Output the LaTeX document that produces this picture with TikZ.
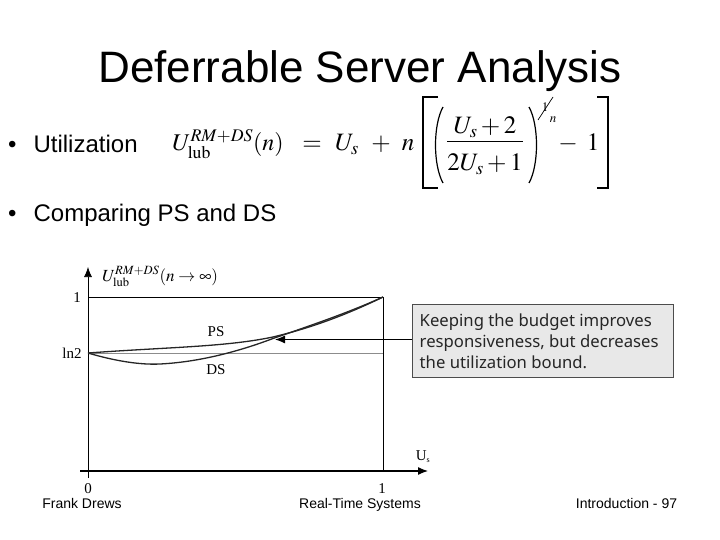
\documentclass[tikz,border=0pt]{standalone}
\usepackage{mathptmx}
\usepackage[no-math]{fontspec}
\usetikzlibrary{arrows.meta}
\setmainfont{Liberation Sans}
\newfontfamily\plotfont{Liberation Serif}
\newfontfamily\notefont{Noto Sans}
\newcommand{\fsize}[1]{\fontsize{#1}{#1}\selectfont}
\begin{document}
\begin{tikzpicture}[x=1pt,y=-1pt]
	\tikzstyle{title}=[inner sep=0,anchor=base,font=\fsize{44}]
	\tikzstyle{bullet}=[inner sep=0,anchor=base west,font=\fsize{24}]
	\tikzstyle{footer}=[inner sep=0,anchor=base,font=\fsize{14}]
	\tikzstyle{eq}=[inner sep=0,anchor=base,font=\fsize{25}]
	\tikzstyle{tick}=[inner sep=0,anchor=base,font=\plotfont\fsize{15}]
	\tikzstyle{notetext}=[inner sep=0,anchor=base west,font=\notefont\fsize{16.7},text=black!85]
	\tikzstyle{bracket}=[draw=black,line width=1.5pt]
	\tikzstyle{axis}=[draw=black,line width=1.2pt,-{Latex[length=10pt,width=8pt]}]
	\tikzstyle{edge}=[draw=black,line width=0.7pt]
	\tikzstyle{curve}=[draw=black!85,line width=1.3pt]
	\useasboundingbox (0,0) rectangle (720,540);

	\node [title] (title) at (360,83) {Deferrable Server Analysis};
	\node [bullet] (b1) at (8,153) {•\hspace{17pt}Utilization};
	\node [bullet] (b2) at (8,222) {•\hspace{17pt}Comparing PS and DS};

	% formula
	\node [eq,font=\fsize{24}] (lhs) at (228,151) {$U_{\mathrm{lub}}^{RM+DS}(n)$};
	\node [eq] (equal) at (312,151) {$=$};
	\node [eq] (us) at (347,151) {$U_s$};
	\node [eq] (plus) at (381,151) {$+$};
	\node [eq] (n) at (408,151) {$n$};
	\node [eq] (num) at (485,134) {$U_s+2$};
	\node [eq] (den) at (485,171) {$2U_s+1$};
	\node [eq,font=\fsize{13}] (exp) at (545,112) {$1$};
	\node [eq,font=\fsize{13}] (expn) at (553,123) {$n$};
	\node [eq] (minus) at (568,151) {$-$};
	\node [eq] (one) at (593,151) {$1$};
	\coordinate (sl1) at (538,120);
	\coordinate (sl2) at (553,97);
	\draw [edge] (sl1) -- (sl2);
	\draw [edge,line width=1pt] (447,142) -- (523,142);
	\draw [bracket] (438,97) -- (423,97) -- (423,188) -- (438,188);
	\draw [bracket] (597,97) -- (608,97) -- (608,188) -- (597,188);
	\draw [edge,line width=1.2pt] (443,107) .. controls (433,125) and (433,165) .. (443,183);
	\draw [edge,line width=1.2pt] (529,107) .. controls (539,125) and (539,165) .. (529,183);

	% plot
	\coordinate (o) at (88,471);
	\coordinate (ytop) at (88,267);
	\coordinate (xleft) at (80,471);
	\coordinate (xright) at (428,471);
	\coordinate (one1) at (88,297);
	\coordinate (oneR) at (383,297);
	\coordinate (ln) at (88,353);
	\coordinate (lnR) at (383,353);
	\coordinate (xone) at (383,471);
	\coordinate (tip) at (275,339.5);

	\draw [edge] (88,478) -- (o);
	\draw [axis,line width=0.7pt] (o) -- (ytop);
	\draw [axis] (xleft) -- (xright);
	\draw [edge] (one1) -- (oneR) -- (xone);
	\draw [draw=black!45,line width=0.5pt] (ln) -- (lnR);
	\draw [curve] (ln) .. controls (170,347) and (225,347) .. (273,337) .. controls (315,327) and (350,313) .. (oneR);
	\draw [curve] (ln) .. controls (115,361) and (140,365) .. (160,364) .. controls (200,362) and (240,351) .. (273,338.5) .. controls (315,324) and (350,312) .. (oneR);

	\node [tick] (lab1) at (77,302) {1};
	\node [tick] (labln) at (72,358) {ln2};
	\node [tick] (labps) at (216,336) {PS};
	\node [tick] (labds) at (216,374) {DS};
	\node [tick] (lab0) at (88,493) {0};
	\node [tick] (labx1) at (382,493) {1};
	\node [tick] (labus) at (423,460) {U\textsubscript{\fsize{8}s}};
	\node [inner sep=0,anchor=base west,font=\fsize{17}] (laby) at (102,281) {$U_{\mathrm{lub}}^{RM+DS}(n\rightarrow\infty)$};

	% note
	\node [draw=black!70,fill=black!9,line width=0.8pt,minimum width=261pt,minimum height=73pt,anchor=north west,inner sep=0] (note) at (411.5,304) {};
	\node [notetext] (note1) at (419.5,326) {Keeping the budget improves};
	\node [notetext] (note2) at (419.5,347) {responsiveness, but decreases};
	\node [notetext] (note3) at (419.5,368) {the utilization bound.};
	\draw [axis] (note.west |- tip) -- (tip);

	\node [footer] (f1) at (82,508) {Frank Drews};
	\node [footer] (f2) at (360,508) {Real-Time Systems};
	\node [footer] (f3) at (626.5,508) {Introduction - 97};
\end{tikzpicture}
\end{document}
